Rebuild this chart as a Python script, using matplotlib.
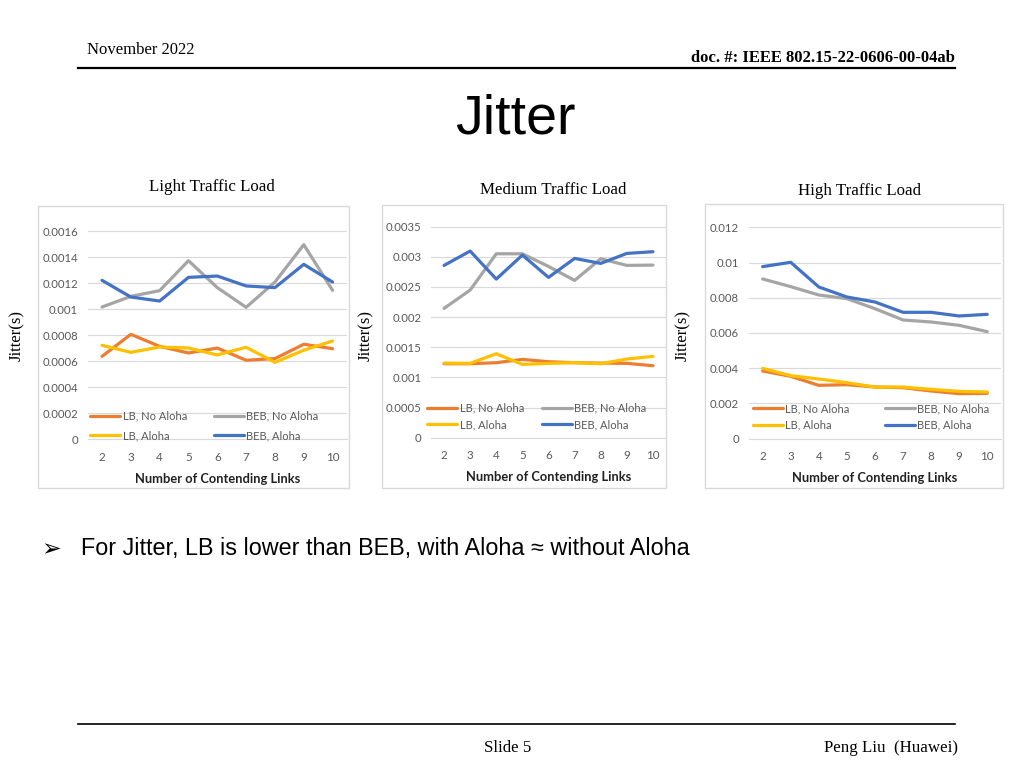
import matplotlib
matplotlib.use('Agg')
import matplotlib.pyplot as plt
from matplotlib.patches import Rectangle
from matplotlib.lines import Line2D
import numpy as np

# data
links = [2, 3, 4, 5, 6, 7, 8, 9, 10]
series_names = ['LB, No Aloha', 'BEB, No Aloha', 'LB, Aloha', 'BEB, Aloha']
series_colors = ['#ED7D31', '#A5A5A5', '#FFC000', '#4472C4']

light_lb_no = [0.000637, 0.000806, 0.000714, 0.000663, 0.000701, 0.000607, 0.000620, 0.000730, 0.000696]
light_beb_no = [0.001016, 0.001098, 0.001142, 0.001372, 0.001165, 0.001014, 0.001208, 0.001495, 0.001144]
light_lb_al = [0.000722, 0.000668, 0.000709, 0.000701, 0.000648, 0.000707, 0.000591, 0.000684, 0.000755]
light_beb_al = [0.001221, 0.001093, 0.001062, 0.001244, 0.001254, 0.001178, 0.001165, 0.001344, 0.001208]

med_lb_no = [0.001227, 0.001227, 0.001244, 0.001299, 0.001260, 0.001244, 0.001238, 0.001233, 0.001194]
med_beb_no = [0.002145, 0.002449, 0.003051, 0.003051, 0.002841, 0.002609, 0.002968, 0.002858, 0.002863]
med_lb_al = [0.001238, 0.001233, 0.001393, 0.001216, 0.001233, 0.001244, 0.001227, 0.001305, 0.001349]
med_beb_al = [0.002858, 0.003096, 0.002631, 0.003029, 0.002659, 0.002974, 0.002891, 0.003057, 0.003085]

high_lb_no = [0.003843, 0.003540, 0.003029, 0.003066, 0.002934, 0.002896, 0.002707, 0.002555, 0.002574]
high_beb_no = [0.009067, 0.008632, 0.008158, 0.007950, 0.007382, 0.006739, 0.006625, 0.006436, 0.006076]
high_lb_al = [0.003994, 0.003578, 0.003388, 0.003180, 0.002934, 0.002934, 0.002801, 0.002688, 0.002650]
high_beb_al = [0.009767, 0.010013, 0.008613, 0.008045, 0.007761, 0.007174, 0.007174, 0.006966, 0.007060]

light_ticks = [0, 0.0002, 0.0004, 0.0006, 0.0008, 0.001, 0.0012, 0.0014, 0.0016]
light_labels = ['0', '0.0002', '0.0004', '0.0006', '0.0008', '0.001', '0.0012', '0.0014', '0.0016']
med_ticks = [0, 0.0005, 0.001, 0.0015, 0.002, 0.0025, 0.003, 0.0035]
med_labels = ['0', '0.0005', '0.001', '0.0015', '0.002', '0.0025', '0.003', '0.0035']
high_ticks = [0, 0.002, 0.004, 0.006, 0.008, 0.01, 0.012]
high_labels = ['0', '0.002', '0.004', '0.006', '0.008', '0.01', '0.012']

W, H = 1024, 768
fig = plt.figure(figsize=(W / 100, H / 100), dpi=100)

def fx(x):
    return x / W

def fy(y):
    return 1 - y / H

serif = 'Liberation Serif'
tick_font = 'Lato'

# header / footer
fig.text(fx(87), fy(50), 'November 2022', family=serif, fontsize=12, va='center', ha='left')
fig.text(fx(955), fy(58), 'doc. #: IEEE 802.15-22-0606-00-04ab', family=serif, fontsize=12,
         weight='bold', va='center', ha='right')
fig.add_artist(Line2D([fx(78), fx(955)], [fy(68), fy(68)], color='black', lw=1.6))
fig.text(fx(515), fy(119), 'Jitter', family='Liberation Sans', fontsize=40, va='center', ha='center')

fig.add_artist(Line2D([fx(78), fx(955)], [fy(724), fy(724)], color='black', lw=1.2))
fig.text(fx(508), fy(748), 'Slide 5', family=serif, fontsize=12.2, va='center', ha='center')
fig.text(fx(958), fy(748), 'Peng Liu  (Huawei)', family=serif, fontsize=12.2, va='center', ha='right')

fig.text(fx(41), fy(549), '\u27a2', family=['DejaVu Sans'], fontsize=17, va='center', ha='left')
fig.text(fx(81), fy(549), 'For Jitter, LB is lower than BEB, with Aloha \u2248 without Aloha',
         family=['Liberation Sans', 'DejaVu Sans'], fontsize=16.8, va='center', ha='left')

charts = [
    dict(title='Light Traffic Load', tx=212, ty=187, box=(38, 206, 349, 488),
         ax=(87.6, 231, 347, 439.3), ylab_x=17,
         data=[light_lb_no, light_beb_no, light_lb_al, light_beb_al],
         ticks=light_ticks, labels=light_labels, leg=(0.45, 0.065), colsp=2.4, lsp=0.75),
    dict(title='Medium Traffic Load', tx=553, ty=190, box=(382, 205, 666, 488),
         ax=(431, 226.7, 666, 437.7), ylab_x=366,
         data=[med_lb_no, med_beb_no, med_lb_al, med_beb_al],
         ticks=med_ticks, labels=med_labels, leg=(0.45, 0.10), colsp=1.6, lsp=0.5),
    dict(title='High Traffic Load', tx=860, ty=191, box=(705, 204, 1003, 488),
         ax=(748.6, 227.3, 1001.3, 438.7), ylab_x=683,
         data=[high_lb_no, high_beb_no, high_lb_al, high_beb_al],
         ticks=high_ticks, labels=high_labels, leg=(0.484, 0.103), colsp=3.2, lsp=0.5),
]

for c in charts:
    x0, y0, x1, y1 = c['box']
    fig.add_artist(Rectangle((fx(x0), fy(y1)), fx(x1 - x0), (y1 - y0) / H,
                             transform=fig.transFigure, fill=False, edgecolor='#d9d9d9', lw=1))
    fig.text(fx(c['tx']), fy(c['ty']), c['title'], family=serif, fontsize=12.2, ha='center', va='center')
    fig.text(fx(c['ylab_x']), fy(335), 'Jitter(s)', family=serif, fontsize=12, rotation=90,
             ha='center', va='center')

    a0, b0, a1, b1 = c['ax']
    ax = fig.add_axes([fx(a0), fy(b1), (a1 - a0) / W, (b1 - b0) / H])
    handles = {}
    for name, col, vals in zip(series_names, series_colors, c['data']):
        ln, = ax.plot(links, vals, color=col, lw=2.3, label=name, solid_capstyle='round')
        handles[name] = ln
    ax.set_xlim(1.5, 10.5)
    ax.set_ylim(0, c['ticks'][-1])
    ax.set_xticks(links)
    ax.set_yticks(c['ticks'])
    ax.set_yticklabels(c['labels'])
    ax.grid(axis='y', color='#d9d9d9', lw=0.8)
    ax.set_axisbelow(True)
    for s in ['top', 'right', 'left']:
        ax.spines[s].set_visible(False)
    ax.spines['bottom'].set_color('#d9d9d9')
    ax.tick_params(axis='y', length=0, labelsize=8.2, labelcolor='#595959', pad=7)
    ax.tick_params(axis='x', length=0, labelsize=8.4, labelcolor='#595959', pad=9)
    for t in ax.get_xticklabels() + ax.get_yticklabels():
        t.set_family(tick_font)
    ax.set_xlabel('Number of Contending Links', family=tick_font, fontsize=9.3, weight='bold',
                  color='#222222', labelpad=7)
    order = ['LB, No Aloha', 'LB, Aloha', 'BEB, No Aloha', 'BEB, Aloha']
    leg = ax.legend([handles[n] for n in order], order, ncol=2, loc='center',
                    bbox_to_anchor=c['leg'], frameon=False, handlelength=2.7,
                    columnspacing=c['colsp'], handletextpad=0.2, labelspacing=c['lsp'],
                    prop={'family': tick_font, 'size': 8})
    for t in leg.get_texts():
        t.set_color('#595959')
    ax.patch.set_alpha(0)

fig.savefig('out.png', dpi=100)
